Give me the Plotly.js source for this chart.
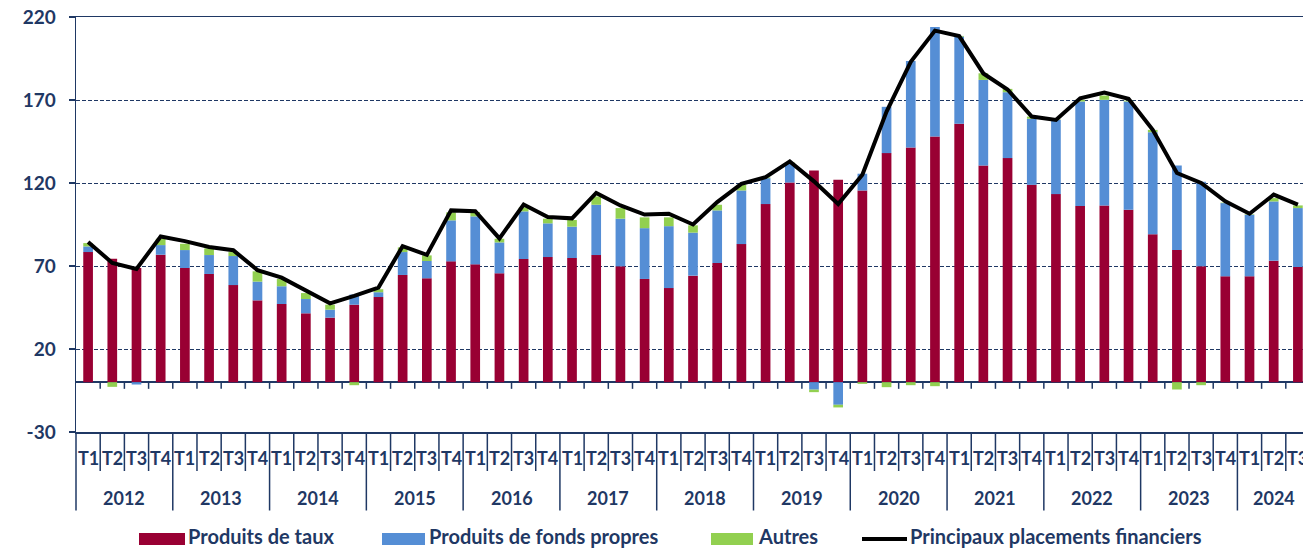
<!DOCTYPE html>
<html>
<head>
<meta charset="utf-8">
<script src="https://cdn.plot.ly/plotly-3.0.1.min.js"></script>
<style>
  html, body { margin: 0; padding: 0; overflow: hidden; background: #ffffff; }
  #chart { width: 1310px; height: 548px; }
</style>
</head>
<body>
<div id="chart"></div>
<script>
// ---- Data ----
const years = ['2012','2013','2014','2015','2016','2017','2018','2019','2020','2021','2022','2023','2024'];
const quarters = ['T1','T2','T3','T4'];
const seriesNames = ['Produits de taux', 'Produits de fonds propres', 'Autres', 'Principaux placements financiers'];

const produitsDeTaux = [78.4,74.4,68.8,76.8, 68.8,65.2,58.5,49.3, 47.1,41.5,38.9,46.7, 51.3,64.6,62.6,72.8,
  71.0,65.6,74.2,75.4, 74.8,76.6,69.8,62.2, 56.7,64.2,71.8,83.2, 107.3,120.3,127.6,122.0,
  115.5,138.0,141.4,148.0, 155.7,130.6,135.0,118.9, 113.3,106.1,106.5,103.9, 89.2,79.6,69.8,63.8,
  63.8,73.2,69.4];
const produitsFondsPropres = [3.4,0,-1.4,5.8, 10.8,11.4,17.5,11.3, 10.7,8.6,4.8,6.1, 2.9,13.8,10.4,24.7,
  28.9,18.6,28.7,20.3, 18.9,30.3,28.7,30.6, 37.3,25.9,31.7,32.3, 15.6,11.6,-4.5,-13.6,
  10.1,27.9,52.1,66.0, 52.5,51.5,39.7,39.8, 44.7,63.0,63.6,65.2, 61.4,51.0,51.0,44.1,
  37.1,35.7,35.5];
const autres = [2.0,-2.8,0,3.8, 3.8,4.0,2.4,6.2, 4.4,3.6,3.0,-1.8, 1.8,2.8,3.4,4.8,
  2.6,2.2,2.4,2.8, 4.0,5.0,6.4,6.5, 5.3,4.4,3.4,3.4, 0.5,0.5,-1.5,-1.6,
  -1.0,-3.0,-1.8,-2.4, 0.4,4.0,2.0,1.3, 0.3,1.0,2.6,0.5, 1.4,-4.4,-1.8,0.3,
  0.3,2.0,1.6];
const principauxPlacements = [84.5,71.8,68.2,87.8, 85.0,81.5,79.5,67.5, 63.0,55.0,47.5,52.0, 57.0,82.0,76.7,103.5,
  103.0,86.6,107.0,99.5, 98.7,114.0,106.5,101.0, 101.5,95.0,108.5,119.5, 123.5,133.0,121.0,107.3,
  125.0,163.0,193.0,211.8, 208.5,186.0,176.3,160.0, 158.0,171.0,174.5,170.7, 152.0,126.0,120.0,109.0,
  101.5,113.0,107.0];
const yTickVals = [-30, 20, 70, 120, 170, 220];

// ---- Build categories ----
const nPeriods = produitsDeTaux.length;
const categories = [];
const catQuarter = [];
const catYear = [];
years.forEach(function (y) {
  quarters.forEach(function (q) {
    if (categories.length < nPeriods) {
      categories.push(q + ' ' + y);
      catQuarter.push(q);
      catYear.push(y);
    }
  });
});

const navy = '#1F3864';
const colors = ['#990033', '#558ED5', '#92D050', '#000000'];
const fontFamily = 'Lato, "Open Sans", "Liberation Sans", sans-serif';

const traces = [
  { type: 'bar', name: seriesNames[0], x: categories, y: produitsDeTaux,
    marker: { color: colors[0] }, hoverinfo: 'skip' },
  { type: 'bar', name: seriesNames[1], x: categories, y: produitsFondsPropres,
    marker: { color: colors[1] }, hoverinfo: 'skip' },
  { type: 'bar', name: seriesNames[2], x: categories, y: autres,
    marker: { color: colors[2] }, hoverinfo: 'skip' },
  { type: 'scatter', mode: 'lines', name: seriesNames[3], x: categories, y: principauxPlacements,
    line: { color: colors[3], width: 4 }, hoverinfo: 'skip' }
];

// ---- Geometry helpers (plot area: left 76, top 17, height 415, width 1234) ----
const M = { l: 76, t: 17, b: 116 };
const W = 1310, H = 548;
const plotW = W - M.l, plotH = H - M.t - M.b;
const plotBottom = H - M.b;
function px2paperX(px) { return (px - M.l) / plotW; }
function py2paperY(py) { return (plotBottom - py) / plotH; }

// ---- Axis decoration (category labels, separators, zero-line ticks) ----
const annotations = [];
const shapes = [];
const qLabelY = py2paperY(458);
const yLabelY = py2paperY(497.5);
const qSepY = py2paperY(plotBottom + 39);
const ySepY = py2paperY(plotBottom + 78.5);
const labelFont = { family: fontFamily, size: 18, color: navy, weight: 'bold' };

categories.forEach(function (c, i) {
  annotations.push({ x: i, xref: 'x', y: qLabelY, yref: 'paper', text: catQuarter[i],
    showarrow: false, xanchor: 'center', yanchor: 'middle', font: labelFont });
});
years.forEach(function (y) {
  const idx = [];
  catYear.forEach(function (cy, i) { if (cy === y) idx.push(i); });
  if (!idx.length) return;
  const centre = (idx[0] + idx[idx.length - 1]) / 2;
  annotations.push({ x: centre, xref: 'x', y: yLabelY, yref: 'paper', text: y,
    showarrow: false, xanchor: 'center', yanchor: 'middle', font: labelFont });
});

for (let k = 1; k < nPeriods; k++) {
  const yearBoundary = catYear[k] !== catYear[k - 1];
  shapes.push({ type: 'line', xref: 'x', yref: 'paper', x0: k - 0.5, x1: k - 0.5,
    y0: 0, y1: yearBoundary ? ySepY : qSepY, line: { color: navy, width: 1.5 } });
  shapes.push({ type: 'line', xref: 'x', yref: 'y', x0: k - 0.5, x1: k - 0.5,
    y0: 0, y1: -4, line: { color: navy, width: 1.5 } });
}
shapes.push({ type: 'line', xref: 'paper', yref: 'paper', x0: 0, x1: 0, y0: 0, y1: ySepY,
  line: { color: navy, width: 1.5 } });

// ---- Legend (drawn with wide swatches like the reference) ----
const legendTextY = 535.5;
const legendKeyY = 539;
const legendItems = [
  { kind: 'box', x0: 139, x1: 185, tx: 186 },
  { kind: 'box', x0: 382, x1: 425, tx: 427 },
  { kind: 'box', x0: 711, x1: 753, tx: 756 },
  { kind: 'line', x0: 862, x1: 907, tx: 908 }
];
legendItems.forEach(function (it, i) {
  if (it.kind === 'box') {
    shapes.push({ type: 'rect', xref: 'paper', yref: 'paper',
      x0: px2paperX(it.x0), x1: px2paperX(it.x1),
      y0: py2paperY(legendKeyY - 6), y1: py2paperY(legendKeyY + 6),
      fillcolor: colors[i], line: { width: 0 } });
  } else {
    shapes.push({ type: 'line', xref: 'paper', yref: 'paper',
      x0: px2paperX(it.x0), x1: px2paperX(it.x1),
      y0: py2paperY(legendKeyY), y1: py2paperY(legendKeyY),
      line: { color: colors[i], width: 4 } });
  }
  annotations.push({ x: px2paperX(it.tx), xref: 'paper', y: py2paperY(legendTextY), yref: 'paper',
    text: seriesNames[i], showarrow: false, xanchor: 'left', yanchor: 'middle',
    font: { family: fontFamily, size: 20, color: navy, weight: 'bold' } });
});

const layout = {
  width: W, height: H,
  margin: { l: M.l, r: 0, t: M.t, b: M.b, pad: 0, autoexpand: false },
  paper_bgcolor: '#ffffff', plot_bgcolor: '#ffffff',
  barmode: 'relative', bargap: 0.6,
  font: { family: fontFamily, color: navy, size: 18, weight: 'bold' },
  showlegend: false,
  xaxis: { type: 'category', range: [-0.5, nPeriods - 0.5], showticklabels: false, ticks: '',
    showgrid: false, zeroline: false, showline: true, mirror: true, linecolor: navy, linewidth: 1.5,
    fixedrange: true },
  yaxis: { range: [-30, 220], tickvals: yTickVals, ticktext: yTickVals.map(String),
    ticks: 'outside', ticklen: 6, tickcolor: navy, tickwidth: 1.5,
    ticklabelstandoff: 9,
    tickfont: { family: fontFamily, size: 19, color: navy, weight: 'bold' },
    showgrid: true, gridcolor: navy, gridwidth: 1, griddash: '4px,2px',
    zeroline: true, zerolinecolor: navy, zerolinewidth: 1.5,
    showline: true, linecolor: navy, linewidth: 1.5, fixedrange: true },
  annotations: annotations,
  shapes: shapes
};

Plotly.newPlot('chart', traces, layout, { displayModeBar: false, staticPlot: true });
</script>
</body>
</html>
